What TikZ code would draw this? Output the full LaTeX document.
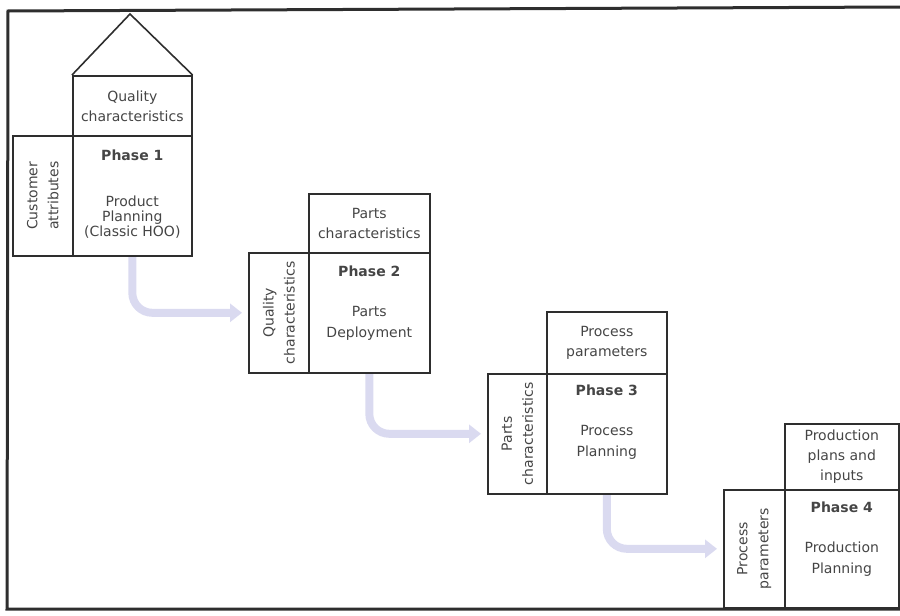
\documentclass[tikz,border=0pt]{standalone}
\usepackage{fontspec}
\setmainfont{DejaVu Sans}
\usetikzlibrary{arrows.meta,backgrounds}
\definecolor{lc}{HTML}{2E2E2E}
\definecolor{tc}{HTML}{454545}
\definecolor{fl}{HTML}{DADAF0}
\begin{document}
\begin{tikzpicture}[x=1pt,y=-1pt,
  bx/.style={draw=lc, line width=1.6pt, inner sep=0pt, anchor=north west, text=tc, align=center,
    font=\fontsize{14}{20}\selectfont},
  sidetxt/.style={rotate=90, align=center, text=tc, inner sep=0pt, font=\fontsize{14}{21}\selectfont},
  maintxt/.style={anchor=north, align=center, text=tc, inner sep=0pt, font=\fontsize{14}{21}\selectfont},
  flow/.style={draw=fl, line width=8pt, rounded corners=20pt, shorten >=6pt,
    -{Triangle[width=18pt,length=12pt]}}]
\useasboundingbox (0,0) rectangle (900,616);
% frame
\draw[lc, line width=3pt] (900,7) -- (8,11) -- (7,609) -- (900,609);
% Phase 1
\node[bx, minimum width=119pt, minimum height=60pt] (p1top) at (72,75) {Quality\\characteristics};
\node[bx, minimum width=60pt, minimum height=120pt] (p1side) at (12,135) {};
\node[bx, minimum width=119pt, minimum height=120pt] (p1main) at (72,135) {};
\coordinate (apex) at (130,14);
\draw[lc, line width=1.6pt] (p1top.north west) -- (apex) -- (p1top.north east);
\node[sidetxt] (p1sidetxt) at (p1side.center) {Customer\\attributes};
\node[maintxt, font=\fontsize{14}{15}\selectfont] (p1txt) at ([yshift=-15pt]p1main.north)
  {\textbf{Phase 1}\\[31pt]Product\\Planning\\(Classic HOO)};
% Phase 2
\node[bx, minimum width=121pt, minimum height=59pt] (p2top) at (308,193) {Parts\\characteristics};
\node[bx, minimum width=60pt, minimum height=120pt] (p2side) at (248,252) {};
\node[bx, minimum width=121pt, minimum height=120pt] (p2main) at (308,252) {};
\node[sidetxt] (p2sidetxt) at (p2side.center) {Quality\\characteristics};
\node[maintxt] (p2txt) at ([yshift=-14pt]p2main.north)
  {\textbf{Phase 2}\\[19pt]Parts\\Deployment};
% Phase 3
\node[bx, minimum width=120pt, minimum height=62pt] (p3top) at (546,311) {Process\\parameters};
\node[bx, minimum width=59pt, minimum height=120pt] (p3side) at (487,373) {};
\node[bx, minimum width=120pt, minimum height=120pt] (p3main) at (546,373) {};
\node[sidetxt] (p3sidetxt) at (p3side.center) {Parts\\characteristics};
\node[maintxt] (p3txt) at ([yshift=-12pt]p3main.north)
  {\textbf{Phase 3}\\[19pt]Process\\Planning};
% Phase 4
\node[bx, minimum width=114pt, minimum height=66pt] (p4top) at (784,423) {Production\\plans and\\inputs};
\node[bx, minimum width=61pt, minimum height=118pt] (p4side) at (723,489) {};
\node[bx, minimum width=114pt, minimum height=118pt] (p4main) at (784,489) {};
\node[sidetxt] (p4sidetxt) at (p4side.center) {Process\\parameters};
\node[maintxt] (p4txt) at ([yshift=-13pt]p4main.north)
  {\textbf{Phase 4}\\[19pt]Production\\Planning};
% flows
\begin{scope}[on background layer]
\draw[flow] (p1main.south) |- (p2side.west);
\draw[flow] (p2main.south) |- (p3side.west);
\draw[flow] (p3main.south) |- (p4side.west);
\end{scope}
\end{tikzpicture}
\end{document}
